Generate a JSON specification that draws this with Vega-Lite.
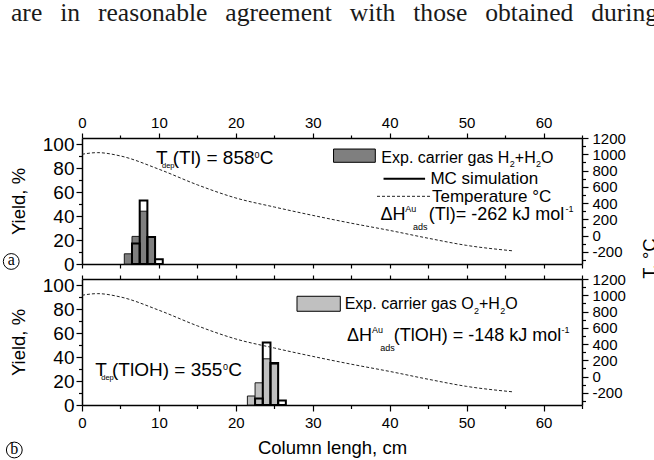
{
  "$schema": "https://vega.github.io/schema/vega-lite/v6.json",
  "autosize": {"type": "pad"},
  "padding": {"left": 1, "top": 1, "right": 0, "bottom": 0},
  "bounds": "flush",
  "spacing": 15,
  "config": {
    "font": "Liberation Sans",
    "view": {"stroke": null},
    "axis": {"domainColor": "#000", "domainWidth": 1.5, "tickColor": "#000", "tickWidth": 1.2, "labelColor": "#000", "titleColor": "#000", "grid": false, "titleFontWeight": "normal", "labelFont": "Liberation Sans", "titleFont": "Liberation Sans", "labelOverlap": false, "labelFlush": false},
    "text": {"font": "Liberation Sans", "color": "#000"}
  },
  "datasets": {
    "caption": [{"x": -9.23, "y": 202.5, "t": "are\u2002\u2009in\u2002\u2009reasonable\u2002\u2009agreement\u2002\u2009with\u2002\u2009those\u2002\u2009obtained\u2002\u2009during"}],
    "expA": [{"x0": 5.5, "x1": 6.5, "yield": 8.5}, {"x0": 6.5, "x1": 7.5, "yield": 23}, {"x0": 7.5, "x1": 8.5, "yield": 44}, {"x0": 8.5, "x1": 9.5, "yield": 22.5}],
    "mcA": [{"x0": 6.5, "x1": 7.5, "yield": 17}, {"x0": 7.5, "x1": 8.5, "yield": 53}, {"x0": 8.5, "x1": 9.5, "yield": 22.5}, {"x0": 9.5, "x1": 10.5, "yield": 4}],
    "expB": [{"x0": 21.5, "x1": 22.5, "yield": 7.5}, {"x0": 22.5, "x1": 23.5, "yield": 18.5}, {"x0": 23.5, "x1": 24.5, "yield": 38.5}, {"x0": 24.5, "x1": 25.5, "yield": 34}],
    "mcB": [{"x0": 22.5, "x1": 23.5, "yield": 5.5}, {"x0": 23.5, "x1": 24.5, "yield": 52}, {"x0": 24.5, "x1": 25.5, "yield": 35}, {"x0": 25.5, "x1": 26.5, "yield": 3.7}],
    "temp": [{"x": 0, "T": 1000}, {"x": 2, "T": 1020}, {"x": 5, "T": 979}, {"x": 10, "T": 816}, {"x": 15, "T": 624}, {"x": 20, "T": 462}, {"x": 25, "T": 351}, {"x": 30, "T": 248}, {"x": 35, "T": 152}, {"x": 40, "T": 63}, {"x": 45, "T": -33}, {"x": 50, "T": -121}, {"x": 56, "T": -188}],
    "swatchA": [{"x0": 32.7, "x1": 38.13, "y0": 84.75, "y1": 95.8}],
    "swatchB": [{"x0": 27.95, "x1": 33.58, "y0": 78.1, "y1": 90.6}],
    "keysA": [{"k": "mc", "x0": 39.2, "x1": 44.6, "y": 71}, {"k": "temp", "x0": 38.35, "x1": 45.28, "y": 56.4}],
    "notesA": [
      {"g": "tdep", "x": 9.62, "y": 83.3, "t": "T"},
      {"g": "dep", "x": 10.4, "y": 79.6, "t": "dep"},
      {"g": "tdep", "x": 11.79, "y": 83.3, "t": "(Tl) = 858"},
      {"g": "small", "x": 22.43, "y": 88.3, "t": "0"},
      {"g": "tdep", "x": 23.1, "y": 83.3, "t": "C"},
      {"g": "leg", "x": 38.91, "y": 84.5, "t": "Exp. carrier gas H"},
      {"g": "small", "x": 55.62, "y": 80.5, "t": "2"},
      {"g": "leg", "x": 56.27, "y": 84.5, "t": "+H"},
      {"g": "small", "x": 59.02, "y": 80.5, "t": "2"},
      {"g": "leg", "x": 59.67, "y": 84.5, "t": "O"},
      {"g": "key", "x": 45.3, "y": 66.7, "t": "MC simulation"},
      {"g": "key", "x": 45.5, "y": 51.4, "t": "Temperature \u00b0C"},
      {"g": "dh", "x": 38.8, "y": 36.9, "t": "\u0394H"},
      {"g": "small", "x": 42.03, "y": 43.15, "t": "Au"},
      {"g": "small", "x": 43.03, "y": 28.6, "t": "ads"},
      {"g": "dh", "x": 45.07, "y": 36.9, "t": "(Tl)= -262 kJ mol"},
      {"g": "small", "x": 62.86, "y": 43.15, "t": "-1"}
    ],
    "notesB": [
      {"g": "tdep", "x": 1.73, "y": 24.4, "t": "T"},
      {"g": "dep", "x": 2.5, "y": 20.65, "t": "dep"},
      {"g": "tdep", "x": 3.9, "y": 24.4, "t": "(TlOH) = 355"},
      {"g": "small", "x": 18.33, "y": 29.4, "t": "0"},
      {"g": "tdep", "x": 19.02, "y": 24.4, "t": "C"},
      {"g": "leg", "x": 34.15, "y": 80, "t": "Exp. carrier gas O"},
      {"g": "small", "x": 50.96, "y": 76, "t": "2"},
      {"g": "leg", "x": 51.61, "y": 80, "t": "+H"},
      {"g": "small", "x": 54.37, "y": 76, "t": "2"},
      {"g": "leg", "x": 55.02, "y": 80, "t": "O"},
      {"g": "dh", "x": 34.45, "y": 53.6, "t": "\u0394H"},
      {"g": "small", "x": 37.7, "y": 59.85, "t": "Au"},
      {"g": "small", "x": 38.78, "y": 45.3, "t": "ads"},
      {"g": "dh", "x": 40.52, "y": 53.6, "t": "(TlOH) = -148 kJ mol"},
      {"g": "small", "x": 62.34, "y": 59.85, "t": "-1"}
    ],
    "tagA": [{"x": -9.2, "y": 2.1, "t": "a"}],
    "tagB": [{"x": -8.8, "y": -37.5, "t": "b"}]
  },
  "vconcat": [
    {
      "width": 500, "height": 126,
      "layer": [
        {
          "data": {"name": "expA"},
          "mark": {"type": "rect", "fill": "#7f7f7f", "stroke": "#1a1a1a", "strokeWidth": 1},
          "encoding": {
            "x": {"field": "x0", "type": "quantitative", "scale": {"domain": [0, 65], "nice": false, "zero": false},
              "axis": {"orient": "bottom", "values": [0, 5, 10, 15, 20, 25, 30, 35, 40, 45, 50, 55, 60, 65], "labels": false, "tickSize": 4, "title": null}},
            "x2": {"field": "x1"},
            "y": {"field": "yield", "type": "quantitative", "scale": {"domain": [0, 105], "nice": false},
              "axis": {"orient": "left", "values": [0, 10, 20, 30, 40, 50, 60, 70, 80, 90, 100], "labelExpr": "datum.value % 20 === 0 ? datum.label : ''",
                "tickSize": {"condition": {"test": "datum.value % 20 === 0", "value": 6}, "value": 3.5},
                "labelOverlap": false, "labelFontSize": 19, "labelPadding": 2, "title": "Yield, %", "titleFontSize": 18.5, "titlePadding": 14}},
            "y2": {"datum": 0}
          }
        },
        {
          "layer": [
            {
              "data": {"name": "mcA"},
              "mark": {"type": "rect", "fill": "transparent", "stroke": "#000", "strokeWidth": 2},
              "encoding": {
                "x": {"field": "x0", "type": "quantitative", "scale": {"domain": [0, 65], "nice": false, "zero": false}, "axis": null},
                "x2": {"field": "x1"},
                "y": {"field": "yield", "type": "quantitative", "scale": {"domain": [0, 105], "nice": false}, "axis": null},
                "y2": {"datum": 0}
              }
            },
            {
              "data": {"name": "swatchA"},
              "mark": {"type": "rect", "fill": "#7f7f7f", "stroke": "#000", "strokeWidth": 1},
              "encoding": {
                "x": {"field": "x0", "type": "quantitative", "scale": {"domain": [0, 65], "nice": false, "zero": false}, "axis": null},
                "x2": {"field": "x1"},
                "y": {"field": "y0", "type": "quantitative", "scale": {"domain": [0, 105], "nice": false}, "axis": null},
                "y2": {"field": "y1"}
              }
            },
            {
              "data": {"name": "keysA"},
              "transform": [{"filter": "datum.k === 'mc'"}],
              "mark": {"type": "rule", "stroke": "#000", "strokeWidth": 2},
              "encoding": {
                "x": {"field": "x0", "type": "quantitative", "scale": {"domain": [0, 65], "nice": false, "zero": false}, "axis": null},
                "x2": {"field": "x1"},
                "y": {"field": "y", "type": "quantitative", "scale": {"domain": [0, 105], "nice": false}, "axis": null}
              }
            },
            {
              "data": {"name": "keysA"},
              "transform": [{"filter": "datum.k === 'temp'"}],
              "mark": {"type": "rule", "stroke": "#222", "strokeWidth": 1, "strokeDash": [3, 2]},
              "encoding": {
                "x": {"field": "x0", "type": "quantitative", "scale": {"domain": [0, 65], "nice": false, "zero": false}, "axis": null},
                "x2": {"field": "x1"},
                "y": {"field": "y", "type": "quantitative", "scale": {"domain": [0, 105], "nice": false}, "axis": null}
              }
            },
            {
              "data": {"name": "caption"},
              "mark": {"type": "text", "align": "left", "baseline": "alphabetic", "font": "Liberation Serif", "fontSize": 25.6, "color": "#1a1a1a"},
              "encoding": {
                "x": {"field": "x", "type": "quantitative", "scale": {"domain": [0, 65], "nice": false, "zero": false}, "axis": null},
                "y": {"field": "y", "type": "quantitative", "scale": {"domain": [0, 105], "nice": false}, "axis": null},
                "text": {"field": "t"}
              }
            },
            {
              "data": {"name": "notesA"},
              "transform": [{"filter": "datum.g === 'tdep'"}],
              "mark": {"type": "text", "align": "left", "baseline": "alphabetic", "fontSize": 19},
              "encoding": {
                "x": {"field": "x", "type": "quantitative", "scale": {"domain": [0, 65], "nice": false, "zero": false}, "axis": null},
                "y": {"field": "y", "type": "quantitative", "scale": {"domain": [0, 105], "nice": false}, "axis": null},
                "text": {"field": "t"}
              }
            },
            {
              "data": {"name": "notesA"},
              "transform": [{"filter": "datum.g === 'dh'"}],
              "mark": {"type": "text", "align": "left", "baseline": "alphabetic", "fontSize": 18},
              "encoding": {
                "x": {"field": "x", "type": "quantitative", "scale": {"domain": [0, 65], "nice": false, "zero": false}, "axis": null},
                "y": {"field": "y", "type": "quantitative", "scale": {"domain": [0, 105], "nice": false}, "axis": null},
                "text": {"field": "t"}
              }
            },
            {
              "data": {"name": "notesA"},
              "transform": [{"filter": "datum.g === 'key'"}],
              "mark": {"type": "text", "align": "left", "baseline": "alphabetic", "fontSize": 17},
              "encoding": {
                "x": {"field": "x", "type": "quantitative", "scale": {"domain": [0, 65], "nice": false, "zero": false}, "axis": null},
                "y": {"field": "y", "type": "quantitative", "scale": {"domain": [0, 105], "nice": false}, "axis": null},
                "text": {"field": "t"}
              }
            },
            {
              "data": {"name": "notesA"},
              "transform": [{"filter": "datum.g === 'leg'"}],
              "mark": {"type": "text", "align": "left", "baseline": "alphabetic", "fontSize": 16},
              "encoding": {
                "x": {"field": "x", "type": "quantitative", "scale": {"domain": [0, 65], "nice": false, "zero": false}, "axis": null},
                "y": {"field": "y", "type": "quantitative", "scale": {"domain": [0, 105], "nice": false}, "axis": null},
                "text": {"field": "t"}
              }
            },
            {
              "data": {"name": "notesA"},
              "transform": [{"filter": "datum.g === 'small'"}],
              "mark": {"type": "text", "align": "left", "baseline": "alphabetic", "fontSize": 9},
              "encoding": {
                "x": {"field": "x", "type": "quantitative", "scale": {"domain": [0, 65], "nice": false, "zero": false}, "axis": null},
                "y": {"field": "y", "type": "quantitative", "scale": {"domain": [0, 105], "nice": false}, "axis": null},
                "text": {"field": "t"}
              }
            },
            {
              "data": {"name": "notesA"},
              "transform": [{"filter": "datum.g === 'dep'"}],
              "mark": {"type": "text", "align": "left", "baseline": "alphabetic", "fontSize": 7.5},
              "encoding": {
                "x": {"field": "x", "type": "quantitative", "scale": {"domain": [0, 65], "nice": false, "zero": false}, "axis": null},
                "y": {"field": "y", "type": "quantitative", "scale": {"domain": [0, 105], "nice": false}, "axis": null},
                "text": {"field": "t"}
              }
            },
            {
              "data": {"name": "tagA"},
              "mark": {"type": "point", "shape": "circle", "filled": false, "stroke": "#000", "strokeWidth": 1, "size": 250, "opacity": 1},
              "encoding": {
                "x": {"field": "x", "type": "quantitative", "scale": {"domain": [0, 65], "nice": false, "zero": false}, "axis": null},
                "y": {"field": "y", "type": "quantitative", "scale": {"domain": [0, 105], "nice": false}, "axis": null}
              }
            },
            {
              "data": {"name": "tagA"},
              "mark": {"type": "text", "align": "center", "baseline": "middle", "font": "Liberation Serif", "fontSize": 16, "dy": -1},
              "encoding": {
                "x": {"field": "x", "type": "quantitative", "scale": {"domain": [0, 65], "nice": false, "zero": false}, "axis": null},
                "y": {"field": "y", "type": "quantitative", "scale": {"domain": [0, 105], "nice": false}, "axis": null},
                "text": {"field": "t"}
              }
            }
          ]
        },
        {
          "data": {"name": "temp"},
          "mark": {"type": "line", "stroke": "#222", "strokeWidth": 1, "strokeDash": [3, 2], "interpolate": "monotone"},
          "encoding": {
            "x": {"field": "x", "type": "quantitative", "scale": {"domain": [0, 65], "nice": false, "zero": false},
              "axis": {"orient": "top", "values": [0, 5, 10, 15, 20, 25, 30, 35, 40, 45, 50, 55, 60, 65],
                "labelExpr": "datum.value % 10 === 0 && datum.value <= 60 ? datum.label : ''",
                "tickSize": {"condition": {"test": "datum.value % 10 === 0", "value": 5}, "value": 3},
                "labelOverlap": false, "labelFontSize": 15, "labelPadding": 3, "title": null}},
            "y": {"field": "T", "type": "quantitative", "scale": {"domain": [-350, 1200], "nice": false, "zero": false},
              "axis": {"orient": "right", "values": [-300, -200, -100, 0, 100, 200, 300, 400, 500, 600, 700, 800, 900, 1000, 1100, 1200],
                "labelExpr": "datum.value % 200 === 0 ? '' + datum.value : ''",
                "tickSize": {"condition": {"test": "datum.value % 200 === 0", "value": 6}, "value": 3.5},
                "labelOverlap": false, "labelFontSize": 15, "labelPadding": 4,
                "title": "T, \u00b0C", "titleFontSize": 18.5, "titleAngle": 270, "titleX": 67, "titleY": 120, "titleAlign": "center", "titleBaseline": "middle"}}
          }
        }
      ],
      "resolve": {"scale": {"y": "independent"}, "axis": {"x": "independent", "y": "independent"}}
    },
    {
      "width": 500, "height": 126,
      "layer": [
        {
          "data": {"name": "expB"},
          "mark": {"type": "rect", "fill": "#c0c0c0", "stroke": "#1a1a1a", "strokeWidth": 1},
          "encoding": {
            "x": {"field": "x0", "type": "quantitative", "scale": {"domain": [0, 65], "nice": false, "zero": false},
              "axis": {"orient": "bottom", "values": [0, 5, 10, 15, 20, 25, 30, 35, 40, 45, 50, 55, 60, 65],
                "labelExpr": "datum.value % 10 === 0 && datum.value <= 60 ? datum.label : ''",
                "tickSize": {"condition": {"test": "datum.value % 10 === 0", "value": 6}, "value": 3.5},
                "labelOverlap": false, "labelFontSize": 15, "labelPadding": 4, "title": "Column lengh, cm", "titleFontSize": 18.5, "titlePadding": 8}},
            "x2": {"field": "x1"},
            "y": {"field": "yield", "type": "quantitative", "scale": {"domain": [0, 105], "nice": false},
              "axis": {"orient": "left", "values": [0, 10, 20, 30, 40, 50, 60, 70, 80, 90, 100], "labelExpr": "datum.value % 20 === 0 ? datum.label : ''",
                "tickSize": {"condition": {"test": "datum.value % 20 === 0", "value": 6}, "value": 3.5},
                "labelOverlap": false, "labelFontSize": 19, "labelPadding": 2, "title": "Yield, %", "titleFontSize": 18.5, "titlePadding": 14}},
            "y2": {"datum": 0}
          }
        },
        {
          "layer": [
            {
              "data": {"name": "mcB"},
              "mark": {"type": "rect", "fill": "transparent", "stroke": "#000", "strokeWidth": 2},
              "encoding": {
                "x": {"field": "x0", "type": "quantitative", "scale": {"domain": [0, 65], "nice": false, "zero": false}, "axis": null},
                "x2": {"field": "x1"},
                "y": {"field": "yield", "type": "quantitative", "scale": {"domain": [0, 105], "nice": false}, "axis": null},
                "y2": {"datum": 0}
              }
            },
            {
              "data": {"name": "swatchB"},
              "mark": {"type": "rect", "fill": "#c0c0c0", "stroke": "#000", "strokeWidth": 1},
              "encoding": {
                "x": {"field": "x0", "type": "quantitative", "scale": {"domain": [0, 65], "nice": false, "zero": false}, "axis": null},
                "x2": {"field": "x1"},
                "y": {"field": "y0", "type": "quantitative", "scale": {"domain": [0, 105], "nice": false}, "axis": null},
                "y2": {"field": "y1"}
              }
            },
            {
              "data": {"name": "notesB"},
              "transform": [{"filter": "datum.g === 'tdep'"}],
              "mark": {"type": "text", "align": "left", "baseline": "alphabetic", "fontSize": 19},
              "encoding": {
                "x": {"field": "x", "type": "quantitative", "scale": {"domain": [0, 65], "nice": false, "zero": false}, "axis": null},
                "y": {"field": "y", "type": "quantitative", "scale": {"domain": [0, 105], "nice": false}, "axis": null},
                "text": {"field": "t"}
              }
            },
            {
              "data": {"name": "notesB"},
              "transform": [{"filter": "datum.g === 'dh'"}],
              "mark": {"type": "text", "align": "left", "baseline": "alphabetic", "fontSize": 18},
              "encoding": {
                "x": {"field": "x", "type": "quantitative", "scale": {"domain": [0, 65], "nice": false, "zero": false}, "axis": null},
                "y": {"field": "y", "type": "quantitative", "scale": {"domain": [0, 105], "nice": false}, "axis": null},
                "text": {"field": "t"}
              }
            },
            {
              "data": {"name": "notesB"},
              "transform": [{"filter": "datum.g === 'leg'"}],
              "mark": {"type": "text", "align": "left", "baseline": "alphabetic", "fontSize": 16},
              "encoding": {
                "x": {"field": "x", "type": "quantitative", "scale": {"domain": [0, 65], "nice": false, "zero": false}, "axis": null},
                "y": {"field": "y", "type": "quantitative", "scale": {"domain": [0, 105], "nice": false}, "axis": null},
                "text": {"field": "t"}
              }
            },
            {
              "data": {"name": "notesB"},
              "transform": [{"filter": "datum.g === 'small'"}],
              "mark": {"type": "text", "align": "left", "baseline": "alphabetic", "fontSize": 9},
              "encoding": {
                "x": {"field": "x", "type": "quantitative", "scale": {"domain": [0, 65], "nice": false, "zero": false}, "axis": null},
                "y": {"field": "y", "type": "quantitative", "scale": {"domain": [0, 105], "nice": false}, "axis": null},
                "text": {"field": "t"}
              }
            },
            {
              "data": {"name": "notesB"},
              "transform": [{"filter": "datum.g === 'dep'"}],
              "mark": {"type": "text", "align": "left", "baseline": "alphabetic", "fontSize": 7.5},
              "encoding": {
                "x": {"field": "x", "type": "quantitative", "scale": {"domain": [0, 65], "nice": false, "zero": false}, "axis": null},
                "y": {"field": "y", "type": "quantitative", "scale": {"domain": [0, 105], "nice": false}, "axis": null},
                "text": {"field": "t"}
              }
            },
            {
              "data": {"name": "tagB"},
              "mark": {"type": "point", "shape": "circle", "filled": false, "stroke": "#000", "strokeWidth": 1, "size": 250, "opacity": 1},
              "encoding": {
                "x": {"field": "x", "type": "quantitative", "scale": {"domain": [0, 65], "nice": false, "zero": false}, "axis": null},
                "y": {"field": "y", "type": "quantitative", "scale": {"domain": [0, 105], "nice": false}, "axis": null}
              }
            },
            {
              "data": {"name": "tagB"},
              "mark": {"type": "text", "align": "center", "baseline": "middle", "font": "Liberation Serif", "fontSize": 16, "dy": -1},
              "encoding": {
                "x": {"field": "x", "type": "quantitative", "scale": {"domain": [0, 65], "nice": false, "zero": false}, "axis": null},
                "y": {"field": "y", "type": "quantitative", "scale": {"domain": [0, 105], "nice": false}, "axis": null},
                "text": {"field": "t"}
              }
            }
          ]
        },
        {
          "data": {"name": "temp"},
          "mark": {"type": "line", "stroke": "#222", "strokeWidth": 1, "strokeDash": [3, 2], "interpolate": "monotone"},
          "encoding": {
            "x": {"field": "x", "type": "quantitative", "scale": {"domain": [0, 65], "nice": false, "zero": false},
              "axis": {"orient": "top", "values": [0, 5, 10, 15, 20, 25, 30, 35, 40, 45, 50, 55, 60, 65], "labels": false, "tickSize": 4, "title": null}},
            "y": {"field": "T", "type": "quantitative", "scale": {"domain": [-350, 1200], "nice": false, "zero": false},
              "axis": {"orient": "right", "values": [-300, -200, -100, 0, 100, 200, 300, 400, 500, 600, 700, 800, 900, 1000, 1100, 1200],
                "labelExpr": "datum.value % 200 === 0 ? '' + datum.value : ''",
                "tickSize": {"condition": {"test": "datum.value % 200 === 0", "value": 6}, "value": 3.5},
                "labelOverlap": false, "labelFontSize": 15, "labelPadding": 4, "title": null}}
          }
        }
      ],
      "resolve": {"scale": {"y": "independent"}, "axis": {"x": "independent", "y": "independent"}}
    }
  ]
}
